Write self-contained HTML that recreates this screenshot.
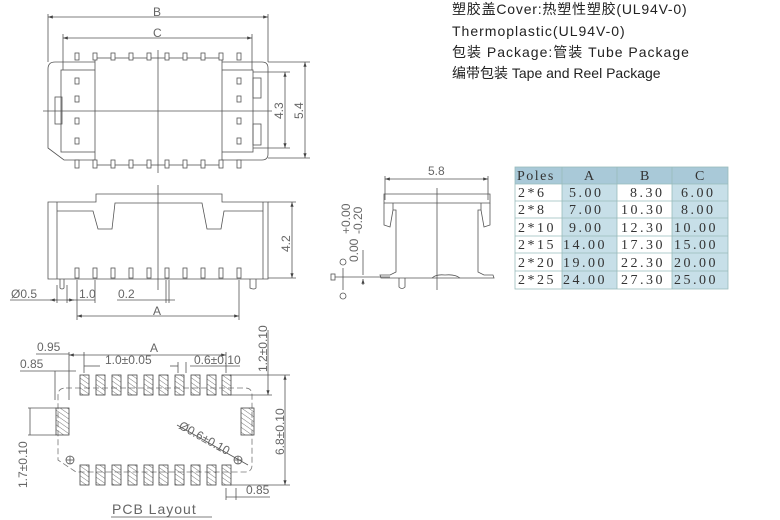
<!DOCTYPE html>
<html><head><meta charset="utf-8"><style>
html,body{margin:0;padding:0;background:#fff;}
svg{display:block;}
.t{font-family:"Liberation Sans","Noto Sans CJK SC",sans-serif;font-size:14px;fill:#222;}
.d{font-family:"Liberation Sans",sans-serif;font-size:12px;fill:#666;}
.m{font-family:"Liberation Serif",serif;font-size:14px;fill:#333;letter-spacing:2.5px;}
</style></head><body>
<svg width="780" height="520" viewBox="0 0 780 520" xmlns="http://www.w3.org/2000/svg">
<defs>
<pattern id="h" width="4" height="4" patternUnits="userSpaceOnUse" patternTransform="rotate(-55)">
<line x1="0" y1="0" x2="0" y2="4" stroke="#555" stroke-width="0.8"/></pattern>
<marker id="a" markerWidth="6" markerHeight="4" refX="6" refY="2" orient="auto"><path d="M0,0L6,2L0,4z" fill="#444"/></marker>
<marker id="b" markerWidth="6" markerHeight="4" refX="0" refY="2" orient="auto"><path d="M6,0L0,2L6,4z" fill="#444"/></marker>
</defs>
<text class="t" x="452" y="14" letter-spacing="0.8">塑胶盖Cover:热塑性塑胶(UL94V-0)</text>
<text class="t" x="452" y="36" letter-spacing="1">Thermoplastic(UL94V-0)</text>
<text class="t" x="452" y="57" letter-spacing="1">包装 Package:管装 Tube Package</text>
<text class="t" x="452" y="78">编带包装 Tape and Reel Package</text>

<g stroke="#555" fill="none" stroke-width="0.8">
<line x1="48" y1="17" x2="268" y2="17" marker-start="url(#b)" marker-end="url(#a)"/>
<line x1="63" y1="38" x2="252" y2="38" marker-start="url(#b)" marker-end="url(#a)"/>
<line x1="48" y1="14" x2="48" y2="62"/><line x1="268" y1="14" x2="268" y2="62"/>
<line x1="63" y1="34" x2="63" y2="70"/><line x1="252" y1="34" x2="252" y2="70"/>
<path d="M55,62 H262 Q268,62 268,68 V154 Q268,160 262,160 H64 L48,148 V69 Q48,62 55,62Z"/>
<rect x="61" y="70" width="192" height="82"/>
<rect x="95" y="58" width="127" height="107" fill="#fff"/>
<line x1="158" y1="50" x2="158" y2="173"/>
<line x1="43" y1="111" x2="272" y2="111"/>
<rect x="55" y="97" width="7" height="27"/>
<rect x="253" y="78" width="8" height="20"/><rect x="253" y="124" width="8" height="21"/>
<line x1="285" y1="72" x2="285" y2="148" marker-start="url(#b)" marker-end="url(#a)"/>
<line x1="305" y1="62" x2="305" y2="158" marker-start="url(#b)" marker-end="url(#a)"/>
<line x1="253" y1="72" x2="290" y2="72"/><line x1="253" y1="148" x2="290" y2="148"/>
<line x1="268" y1="62" x2="310" y2="62"/><line x1="268" y1="158" x2="310" y2="158"/>
</g>
<g fill="#fff" stroke="#555" stroke-width="0.8">
<rect x="75" y="53" width="4" height="7"/><rect x="93" y="53" width="4" height="7"/><rect x="111" y="53" width="4" height="7"/><rect x="129" y="53" width="4" height="7"/><rect x="147" y="53" width="4" height="7"/><rect x="165" y="53" width="4" height="7"/><rect x="183" y="53" width="4" height="7"/><rect x="201" y="53" width="4" height="7"/><rect x="219" y="53" width="4" height="7"/><rect x="237" y="53" width="4" height="7"/>
<rect x="75" y="160" width="4" height="8"/><rect x="93" y="160" width="4" height="8"/><rect x="111" y="160" width="4" height="8"/><rect x="129" y="160" width="4" height="8"/><rect x="147" y="160" width="4" height="8"/><rect x="165" y="160" width="4" height="8"/><rect x="183" y="160" width="4" height="8"/><rect x="201" y="160" width="4" height="8"/><rect x="219" y="160" width="4" height="8"/><rect x="237" y="160" width="4" height="8"/>
<rect x="75" y="78" width="4" height="6"/><rect x="75" y="96" width="4" height="6"/><rect x="75" y="118" width="4" height="6"/><rect x="75" y="138" width="4" height="6"/>
<rect x="237" y="78" width="4" height="6"/><rect x="237" y="96" width="4" height="6"/><rect x="237" y="118" width="4" height="6"/><rect x="237" y="138" width="4" height="6"/>
</g>
<text class="d" x="153" y="16">B</text><text class="d" x="153" y="37">C</text>
<text class="d" transform="translate(283,119) rotate(-90)" font-size="13">4.3</text>
<text class="d" transform="translate(303,119) rotate(-90)" font-size="13">5.4</text>

<g stroke="#555" fill="none" stroke-width="0.8">
<path d="M48,202 H96 V194 H222 V202 H268 V279 H48Z"/>
<path d="M57,202 V279 M57,211 H93 L98,229 H112 L115,203 H202 L207,229 H221 L224,211 H263 M263,202 V279"/>
<line x1="158" y1="185" x2="158" y2="290"/>
<line x1="268" y1="202" x2="296" y2="202"/><line x1="268" y1="278" x2="296" y2="278"/>
<line x1="292" y1="202" x2="292" y2="278" marker-start="url(#b)" marker-end="url(#a)"/>
<path d="M60,279 V288 Q62,290 64,288 V279 M250,279 V288 Q254,290 256,288 V279"/>
<line x1="10" y1="300" x2="95" y2="300"/>
<line x1="57" y1="300" x2="50" y2="300" marker-end="url(#a)"/><line x1="67" y1="300" x2="74" y2="300" marker-end="url(#a)"/>
<line x1="57" y1="285" x2="57" y2="303"/><line x1="67" y1="285" x2="67" y2="303"/>
<line x1="77" y1="280" x2="77" y2="320"/><line x1="95" y1="280" x2="95" y2="303"/>
<line x1="117" y1="300" x2="175" y2="300"/>
<line x1="166" y1="280" x2="166" y2="303"/><line x1="169" y1="280" x2="169" y2="303"/>
<line x1="239" y1="280" x2="239" y2="320"/>
<line x1="77" y1="316" x2="239" y2="316" marker-start="url(#b)" marker-end="url(#a)"/>
</g>
<g fill="#fff" stroke="#555" stroke-width="0.8">
<rect x="75" y="268" width="4" height="10"/><rect x="93" y="268" width="4" height="10"/><rect x="111" y="268" width="4" height="10"/><rect x="129" y="268" width="4" height="10"/><rect x="147" y="268" width="4" height="10"/><rect x="165" y="268" width="4" height="10"/><rect x="183" y="268" width="4" height="10"/><rect x="201" y="268" width="4" height="10"/><rect x="219" y="268" width="4" height="10"/><rect x="237" y="268" width="4" height="10"/>
</g>
<text class="d" x="11" y="298" font-size="13">Ø0.5</text>
<text class="d" x="79" y="298" font-size="13">1.0</text>
<text class="d" x="118" y="298" font-size="13">0.2</text>
<text class="d" x="153" y="315" font-size="13">A</text>
<text class="d" transform="translate(290,252) rotate(-90)" font-size="13">4.2</text>

<g stroke="#555" fill="none" stroke-width="0.8">
<line x1="385" y1="179" x2="488" y2="179" marker-start="url(#b)" marker-end="url(#a)"/>
<line x1="385" y1="176" x2="385" y2="200"/><line x1="488" y1="176" x2="488" y2="200"/>
<path d="M384,194 H490 V203 H384Z"/>
<path d="M384,203 V225 L390,227 L393,210 M393,203 V210 H396 V272 L390,275 H380 L381,278 H398 M490,203 V225 L484,227 L481,210 M481,203 V210 H478 V272 L484,275 H493 L494,278 H476"/>
<line x1="398" y1="278" x2="476" y2="278"/>
<path d="M399,278 V287 Q402,290 405,287 V278"/>
<path d="M432,278 Q436,274 445,275 Q455,274 460,278"/>
<line x1="437" y1="188" x2="437" y2="290"/>
<line x1="335" y1="277" x2="390" y2="277"/>
<line x1="363" y1="250" x2="363" y2="275" /><line x1="363" y1="285" x2="363" y2="279" marker-end="url(#a)"/>
<line x1="343" y1="268" x2="343" y2="290"/>
<circle cx="343" cy="262" r="3"/><circle cx="343" cy="296" r="3"/><rect x="331" y="274" width="4" height="6"/>
</g>
<text class="d" x="428" y="175" font-size="13">5.8</text>
<text class="d" transform="translate(358,262) rotate(-90)" font-size="13">0.00</text>
<text class="d" transform="translate(350,234) rotate(-90)" font-size="8">+0.00</text>
<text class="d" transform="translate(362,234) rotate(-90)" font-size="8">-0.20</text>

<!-- TABLE -->
<rect x="515" y="167" width="213" height="17" fill="#a9c9d8"/>
<rect x="562" y="184" width="55" height="105" fill="#c7dfe8"/>
<rect x="672" y="184" width="56" height="105" fill="#c7dfe8"/>
<g stroke="#9bb" stroke-width="0.8" fill="none">
<rect x="515" y="167" width="213" height="122"/>
<line x1="562" y1="167" x2="562" y2="289"/><line x1="617" y1="167" x2="617" y2="289"/><line x1="672" y1="167" x2="672" y2="289"/>
<line x1="515" y1="184" x2="728" y2="184"/><line x1="515" y1="201" x2="728" y2="201"/><line x1="515" y1="218" x2="728" y2="218"/><line x1="515" y1="236" x2="728" y2="236"/><line x1="515" y1="253" x2="728" y2="253"/><line x1="515" y1="271" x2="728" y2="271"/>
</g>
<g class="m">
<text x="517" y="180" letter-spacing="1.5">Poles</text><text x="584" y="180">A</text><text x="640" y="180">B</text><text x="695" y="180">C</text>
<text x="518" y="197">2*6</text><text x="569" y="197">5.00</text><text x="630" y="197">8.30</text><text x="681" y="197">6.00</text>
<text x="518" y="214">2*8</text><text x="569" y="214">7.00</text><text x="621" y="214">10.30</text><text x="681" y="214">8.00</text>
<text x="518" y="232">2*10</text><text x="569" y="232">9.00</text><text x="621" y="232">12.30</text><text x="674" y="232">10.00</text>
<text x="518" y="249">2*15</text><text x="563" y="249">14.00</text><text x="621" y="249">17.30</text><text x="674" y="249">15.00</text>
<text x="518" y="267">2*20</text><text x="563" y="267">19.00</text><text x="621" y="267">22.30</text><text x="674" y="267">20.00</text>
<text x="518" y="284">2*25</text><text x="563" y="284">24.00</text><text x="621" y="284">27.30</text><text x="674" y="284">25.00</text>
</g>

<!-- PCB LAYOUT -->
<g stroke="#555" fill="none" stroke-width="0.8">
<path d="M66,388 H245 Q252,388 252,395 V465 Q252,472 245,472 H76 L58,460 V395 Q58,388 66,388Z" stroke-dasharray="6,3" stroke="#777"/>
<line x1="69" y1="355" x2="226" y2="355" marker-start="url(#b)" marker-end="url(#a)"/>
<line x1="69" y1="352" x2="69" y2="400"/><line x1="84" y1="352" x2="84" y2="373"/><line x1="226" y1="352" x2="226" y2="373"/>
<line x1="36" y1="354" x2="69" y2="354"/>
<line x1="20" y1="371" x2="76" y2="371"/><line x1="55" y1="371" x2="55" y2="400"/>
<line x1="84" y1="366" x2="100" y2="366"/><line x1="170" y1="366" x2="178" y2="366"/><line x1="190" y1="366" x2="240" y2="366"/>
<line x1="178" y1="362" x2="178" y2="373"/><line x1="186" y1="362" x2="186" y2="373"/>
<line x1="230" y1="375" x2="290" y2="375"/><line x1="230" y1="395" x2="272" y2="395"/>
<line x1="268" y1="330" x2="268" y2="395" marker-end="url(#a)"/>
<line x1="285" y1="375" x2="285" y2="485" marker-start="url(#b)" marker-end="url(#a)"/>
<line x1="230" y1="485" x2="290" y2="485"/>
<line x1="28" y1="408" x2="56" y2="408"/><line x1="28" y1="435" x2="56" y2="435"/>
<line x1="30" y1="408" x2="30" y2="435"/>
<line x1="226" y1="488" x2="226" y2="500"/><line x1="236" y1="488" x2="236" y2="500"/>
<line x1="226" y1="497" x2="270" y2="497"/>
<line x1="177" y1="425" x2="248" y2="465"/>
<circle cx="70" cy="460" r="4"/><line x1="66" y1="460" x2="74" y2="460"/><line x1="70" y1="456" x2="70" y2="464"/>
<circle cx="238" cy="460" r="4"/><line x1="234" y1="460" x2="242" y2="460"/><line x1="238" y1="456" x2="238" y2="464"/>
<line x1="111" y1="517" x2="212" y2="517"/>
</g>
<g fill="url(#h)" stroke="#444" stroke-width="0.8">
<rect x="80" y="375" width="9" height="20"/><rect x="96" y="375" width="9" height="20"/><rect x="112" y="375" width="9" height="20"/><rect x="128" y="375" width="9" height="20"/><rect x="144" y="375" width="9" height="20"/><rect x="159" y="375" width="9" height="20"/><rect x="175" y="375" width="9" height="20"/><rect x="191" y="375" width="9" height="20"/><rect x="207" y="375" width="9" height="20"/><rect x="222" y="375" width="9" height="20"/>
<rect x="80" y="465" width="9" height="20"/><rect x="96" y="465" width="9" height="20"/><rect x="112" y="465" width="9" height="20"/><rect x="128" y="465" width="9" height="20"/><rect x="144" y="465" width="9" height="20"/><rect x="159" y="465" width="9" height="20"/><rect x="175" y="465" width="9" height="20"/><rect x="191" y="465" width="9" height="20"/><rect x="207" y="465" width="9" height="20"/><rect x="222" y="465" width="9" height="20"/>
<rect x="56" y="408" width="13" height="27"/><rect x="241" y="408" width="13" height="27"/>
</g>
<g class="d" font-size="12">
<text x="37" y="351">0.95</text><text x="150" y="352">A</text>
<text x="20" y="368">0.85</text>
<text x="105" y="364">1.0±0.05</text><text x="194" y="364">0.6±0.10</text>
<text transform="translate(267,372) rotate(-90)">1.2±0.10</text>
<text transform="translate(284,455) rotate(-90)">6.8±0.10</text>
<text transform="translate(27,488) rotate(-90)">1.7±0.10</text>
<text transform="translate(178,428) rotate(29)">Ø0.6±0.10</text>
<text x="246" y="494">0.85</text>
<text x="112" y="514" font-size="14" letter-spacing="1">PCB  Layout</text>
</g>
</svg>
</body></html>
